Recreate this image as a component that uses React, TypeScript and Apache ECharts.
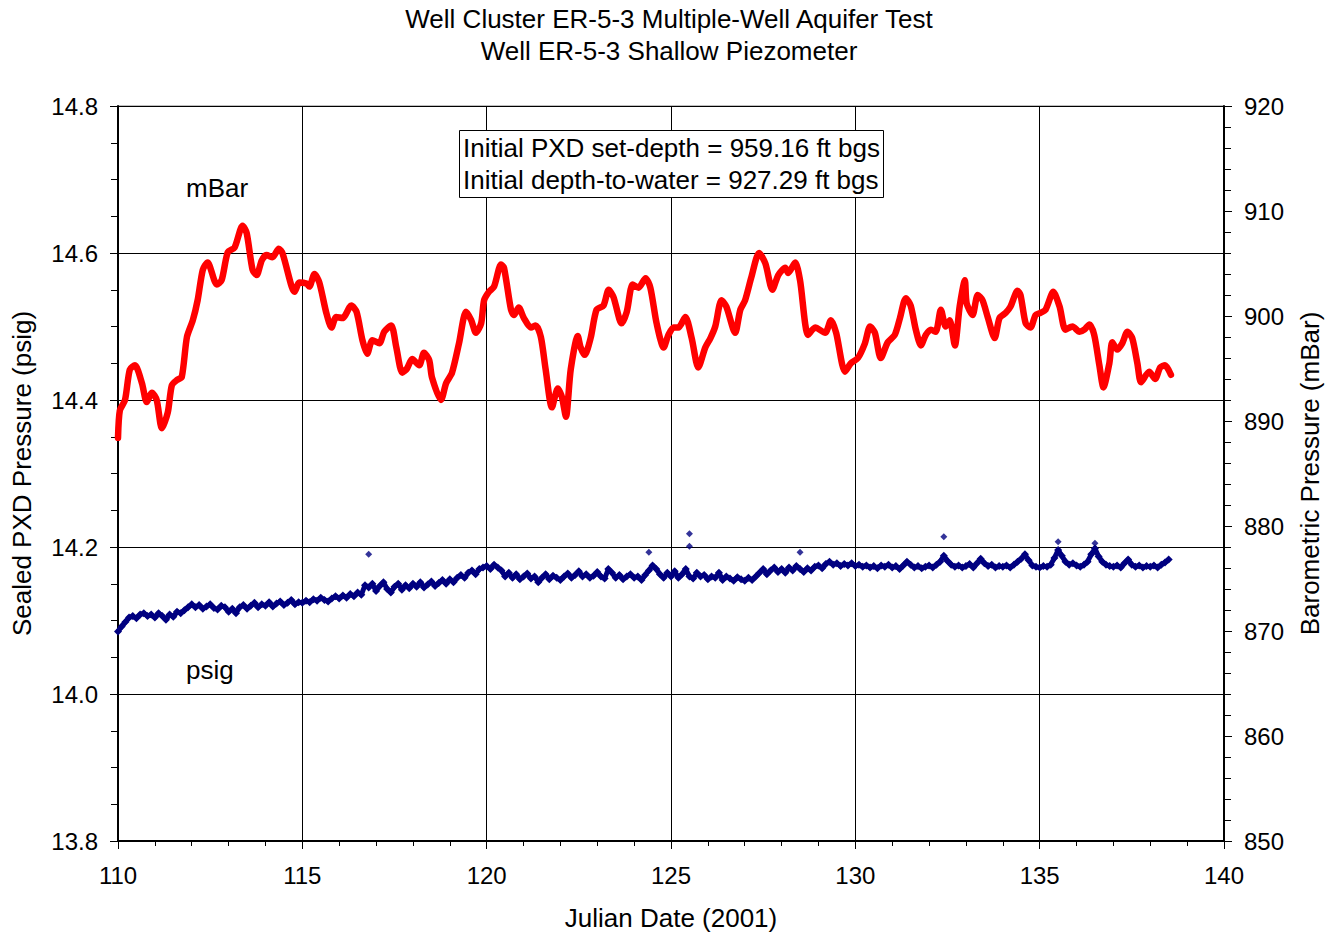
import React, { useEffect, useRef } from "react";
import * as echarts from "echarts";

const titleLines = ["Well Cluster ER-5-3 Multiple-Well Aquifer Test", "Well ER-5-3 Shallow Piezometer"];
const noteLines = ["Initial PXD set-depth = 959.16 ft bgs", "Initial depth-to-water = 927.29 ft bgs"];

const redDays = [
  110.0, 110.05, 110.19, 110.32, 110.46, 110.65, 110.78, 110.92, 111.05, 111.19, 111.35, 111.46, 111.6, 111.73, 111.87,
  112.03, 112.16, 112.3, 112.43, 112.68, 112.81, 112.98, 113.16, 113.38, 113.49, 113.65, 113.76, 113.9, 114.03, 114.19,
  114.36, 114.46, 114.71, 114.79, 114.92, 115.11, 115.19, 115.33, 115.46, 115.65, 115.79, 115.92, 116.09, 116.33, 116.47,
  116.63, 116.76, 116.9, 117.09, 117.22, 117.41, 117.55, 117.71, 117.84, 117.98, 118.17, 118.3, 118.44, 118.52, 118.76,
  118.9, 119.06, 119.25, 119.44, 119.58, 119.71, 119.85, 119.93, 120.06, 120.2, 120.39, 120.47, 120.66, 120.74, 120.87,
  121.01, 121.2, 121.33, 121.47, 121.6, 121.77, 121.93, 122.04, 122.15, 122.28, 122.47, 122.55, 122.66, 122.82, 122.98,
  123.17, 123.31, 123.44, 123.66, 123.8, 123.96, 124.12, 124.31, 124.44, 124.61, 124.8, 124.93, 125.07, 125.2, 125.39,
  125.56, 125.74, 125.93, 126.07, 126.2, 126.37, 126.5, 126.74, 126.88, 127.01, 127.18, 127.39, 127.56, 127.75, 127.91,
  128.1, 128.18, 128.37, 128.5, 128.72, 128.91, 129.18, 129.34, 129.48, 129.72, 129.88, 130.07, 130.26, 130.4, 130.53,
  130.69, 130.88, 131.07, 131.21, 131.37, 131.5, 131.64, 131.78, 131.91, 132.05, 132.18, 132.32, 132.45, 132.56, 132.7,
  132.83, 132.97, 133.02, 133.18, 133.32, 133.45, 133.59, 133.78, 133.91, 134.08, 134.21, 134.4, 134.48, 134.62, 134.75,
  134.89, 135.02, 135.16, 135.37, 135.54, 135.7, 135.89, 136.08, 136.21, 136.35, 136.48, 136.62, 136.73, 136.89, 136.97,
  137.1, 137.24, 137.38, 137.51, 137.65, 137.75, 137.97, 138.13, 138.27, 138.4, 138.56,
];

const redMbar = [
  888.4, 891.0, 892.0, 894.9, 895.3, 893.6, 891.8, 892.7, 892.0, 889.3, 890.8, 893.4, 893.9, 894.2, 898.0,
  899.6, 901.5, 904.4, 905.1, 903.0, 903.4, 906.1, 906.5, 908.6, 907.9, 904.4, 903.9, 905.3, 905.8, 905.6,
  906.4, 906.0, 902.8, 902.3, 903.2, 903.1, 902.8, 904.0, 903.2, 900.3, 898.9, 899.9, 899.8, 901.0, 900.4,
  897.7, 896.4, 897.7, 897.4, 898.5, 899.1, 897.0, 894.6, 895.0, 895.9, 895.3, 896.5, 895.8, 894.1, 892.0,
  893.6, 894.6, 897.4, 900.4, 899.6, 898.4, 899.3, 901.5, 902.3, 902.8, 904.9, 904.6, 900.6, 900.1, 900.8,
  899.8, 898.9, 899.1, 898.0, 894.9, 891.3, 893.1, 892.3, 890.4, 894.9, 898.1, 897.0, 896.3, 897.9, 900.6,
  901.0, 902.5, 901.8, 899.3, 900.4, 903.0, 902.7, 903.6, 902.7, 899.3, 897.0, 898.2, 898.9, 898.9, 899.9,
  897.9, 895.1, 897.0, 897.9, 899.0, 901.5, 900.9, 898.4, 900.6, 901.5, 903.7, 906.0, 905.0, 902.5, 903.9,
  904.6, 904.1, 905.1, 903.4, 898.2, 898.9, 898.4, 899.6, 898.4, 894.7, 895.5, 896.0, 897.4, 899.0, 898.4,
  896.0, 897.5, 898.2, 899.8, 901.7, 901.0, 898.7, 897.2, 898.2, 898.7, 898.5, 900.6, 899.0, 899.6, 897.2,
  900.9, 903.4, 901.2, 900.1, 902.0, 901.5, 899.9, 897.9, 899.8, 900.3, 900.9, 902.4, 902.0, 899.3, 898.9,
  900.1, 900.3, 900.6, 902.3, 900.9, 898.7, 899.0, 898.5, 898.7, 899.2, 898.2, 895.3, 893.2, 895.5, 897.5,
  896.8, 897.4, 898.5, 897.9, 895.5, 893.7, 894.7, 894.0, 895.1, 895.3, 894.4,
];

// psig readings sampled every 0.1 day starting at day 110.0
const blueStartDay = 110.0;
const blueStepDay = 0.1;
const bluePsig = [
  14.085, 14.092, 14.098, 14.104, 14.106, 14.103, 14.108, 14.110, 14.106, 14.108,
  14.104, 14.110, 14.106, 14.101, 14.108, 14.105, 14.112, 14.110, 14.114, 14.118,
  14.122, 14.118, 14.121, 14.116, 14.119, 14.122, 14.117, 14.115, 14.120, 14.118,
  14.112, 14.116, 14.110, 14.118, 14.121, 14.116, 14.120, 14.124, 14.118, 14.122,
  14.120, 14.125, 14.119, 14.123, 14.126, 14.121, 14.124, 14.128, 14.122, 14.125,
  14.124, 14.127, 14.125, 14.129, 14.127, 14.131, 14.128, 14.126, 14.130, 14.133,
  14.130, 14.134, 14.131, 14.136, 14.133, 14.138, 14.135, 14.148, 14.145, 14.150,
  14.140, 14.147, 14.152, 14.143, 14.138, 14.146, 14.150, 14.142, 14.148, 14.144,
  14.150, 14.146, 14.152, 14.145, 14.149, 14.153, 14.147, 14.151, 14.155, 14.150,
  14.156, 14.152, 14.158, 14.162, 14.158, 14.165, 14.168, 14.163, 14.170, 14.172,
  14.174, 14.170, 14.176, 14.172, 14.168, 14.160, 14.165, 14.158, 14.163, 14.156,
  14.160, 14.164, 14.157, 14.160, 14.152, 14.158, 14.163, 14.156, 14.161, 14.158,
  14.155, 14.160, 14.164, 14.158, 14.162, 14.167, 14.160, 14.163, 14.158, 14.161,
  14.166, 14.160, 14.157, 14.170, 14.165, 14.158, 14.162, 14.156, 14.160, 14.163,
  14.158, 14.160, 14.155, 14.162, 14.168, 14.175, 14.170, 14.163, 14.158, 14.165,
  14.160, 14.167, 14.158, 14.163, 14.170, 14.160, 14.157, 14.165, 14.160, 14.162,
  14.156, 14.160, 14.158, 14.165, 14.155, 14.160, 14.157, 14.154, 14.159, 14.156,
  14.154, 14.158, 14.155, 14.160, 14.165, 14.170, 14.163, 14.168, 14.172, 14.166,
  14.170, 14.165, 14.172, 14.168, 14.174, 14.170, 14.166, 14.171, 14.168, 14.173,
  14.175, 14.171, 14.177, 14.180, 14.176, 14.178, 14.174, 14.177, 14.175, 14.178,
  14.174, 14.176, 14.173, 14.175, 14.172, 14.174, 14.171, 14.175, 14.173, 14.176,
  14.172, 14.174, 14.170, 14.175, 14.180, 14.176, 14.172, 14.174, 14.171, 14.173,
  14.175, 14.172, 14.176, 14.180, 14.188, 14.181, 14.176, 14.173, 14.175, 14.172,
  14.174, 14.177, 14.172, 14.178, 14.184, 14.178, 14.174, 14.176, 14.172, 14.174,
  14.173, 14.175, 14.172, 14.176, 14.180, 14.184, 14.190, 14.182, 14.175, 14.173,
  14.172, 14.174, 14.173, 14.176, 14.185, 14.196, 14.188, 14.180, 14.176, 14.178,
  14.175, 14.173, 14.176, 14.180, 14.190, 14.198, 14.187, 14.180, 14.176, 14.174,
  14.173, 14.175, 14.172, 14.178, 14.183, 14.176, 14.173, 14.175, 14.172, 14.174,
  14.173, 14.175, 14.172, 14.176, 14.179, 14.183,
];

const blueOutlierDays = [116.8, 124.4, 125.5, 125.5, 128.5, 132.4, 135.5, 136.5];
const blueOutlierPsig = [14.19, 14.193, 14.218, 14.201, 14.193, 14.214, 14.207, 14.205];

const FONT = "'Liberation Sans', Arial, sans-serif";
const TXT = 26;

export default function App() {
  const ref = useRef<HTMLDivElement>(null);
  useEffect(() => {
    if (!ref.current) return;
    const chart = echarts.init(ref.current, null, { renderer: "svg" });
    const redData = redDays.map((d, i) => [d, redMbar[i]]);
    const blueData = bluePsig.map((v, i) => [blueStartDay + i * blueStepDay, v]);
    const outData = blueOutlierDays.map((d, i) => [d, blueOutlierPsig[i]]);
    const labelStyle = { color: "#000", fontSize: 24, fontFamily: FONT };
    const nameStyle = { color: "#000", fontSize: TXT, fontFamily: FONT };
    const txt = (text: string, x: number, y: number, align: string, z = 5) => ({
      type: "text",
      x,
      y,
      z,
      style: { text, fill: "#000", fontSize: TXT, fontFamily: FONT, textAlign: align, textVerticalAlign: "middle" },
    });
    chart.setOption({
      animation: false,
      backgroundColor: "#fff",
      grid: { left: 118, right: 104, top: 106, bottom: 96, show: true, borderColor: "#808080", borderWidth: 1 },
      xAxis: {
        type: "value",
        min: 110,
        max: 140,
        interval: 5,
        name: "Julian Date (2001)",
        nameLocation: "middle",
        nameGap: 64,
        nameTextStyle: nameStyle,
        axisLine: { show: true, onZero: false, lineStyle: { color: "#000", width: 2 } },
        axisTick: { show: true, length: 8, lineStyle: { color: "#000", width: 1 } },
        minorTick: { show: true, splitNumber: 5, length: 5, lineStyle: { color: "#000", width: 1 } },
        axisLabel: { ...labelStyle, margin: 22 },
        splitLine: { show: true, lineStyle: { color: "#000", width: 1 } },
      },
      yAxis: [
        {
          type: "value",
          min: 13.8,
          max: 14.8,
          interval: 0.2,
          name: "Sealed PXD Pressure (psig)",
          nameLocation: "middle",
          nameRotate: 90,
          nameGap: 83,
          nameTextStyle: nameStyle,
          axisLine: { show: true, lineStyle: { color: "#000", width: 2 } },
          axisTick: { show: true, length: 8, lineStyle: { color: "#000", width: 1 } },
          minorTick: { show: true, splitNumber: 4, length: 7, lineStyle: { color: "#000", width: 1 } },
          axisLabel: { ...labelStyle, margin: 20, formatter: (v: number) => v.toFixed(1) },
          splitLine: { show: true, lineStyle: { color: "#000", width: 1 } },
        },
        {
          type: "value",
          min: 850,
          max: 920,
          interval: 10,
          position: "right",
          name: "Barometric Pressure (mBar)",
          nameLocation: "middle",
          nameRotate: 90,
          nameGap: 73,
          nameTextStyle: nameStyle,
          axisLine: { show: true, lineStyle: { color: "#000", width: 2 } },
          axisTick: { show: true, length: 8, lineStyle: { color: "#000", width: 1 } },
          minorTick: { show: true, splitNumber: 5, length: 7, lineStyle: { color: "#000", width: 1 } },
          axisLabel: { ...labelStyle, margin: 20 },
          splitLine: { show: false },
        },
      ],
      series: [
        {
          type: "line",
          yAxisIndex: 1,
          data: redData,
          smooth: 0.25,
          showSymbol: false,
          lineStyle: { color: "#ff0000", width: 6.5, cap: "round", join: "round" },
          itemStyle: { color: "#ff0000" },
          z: 3,
        },
        {
          type: "line",
          yAxisIndex: 0,
          data: blueData,
          symbol: "diamond",
          symbolSize: 8,
          showAllSymbol: true,
          lineStyle: { color: "#000080", width: 5, join: "round" },
          itemStyle: { color: "#000080" },
          z: 3,
        },
        {
          type: "scatter",
          yAxisIndex: 0,
          data: outData,
          symbol: "diamond",
          symbolSize: 7,
          itemStyle: { color: "#000080" },
          z: 3,
        },
      ],
      graphic: [
        txt(titleLines[0], 669, 19, "center"),
        txt(titleLines[1], 669, 51, "center"),
        txt("mBar", 186, 188, "left"),
        txt("psig", 186, 670, "left"),
        { type: "rect", shape: { x: 459.5, y: 130.5, width: 424, height: 67 }, style: { fill: "#fff", stroke: "#000", lineWidth: 1 }, z: 10 },
        txt(noteLines[0], 463, 148, "left", 11),
        txt(noteLines[1], 463, 180, "left", 11),
      ],
    });
    return () => chart.dispose();
  }, []);
  return <div ref={ref} style={{ position: "absolute", left: 0, top: 0, width: 1331, height: 937 }} />;
}
